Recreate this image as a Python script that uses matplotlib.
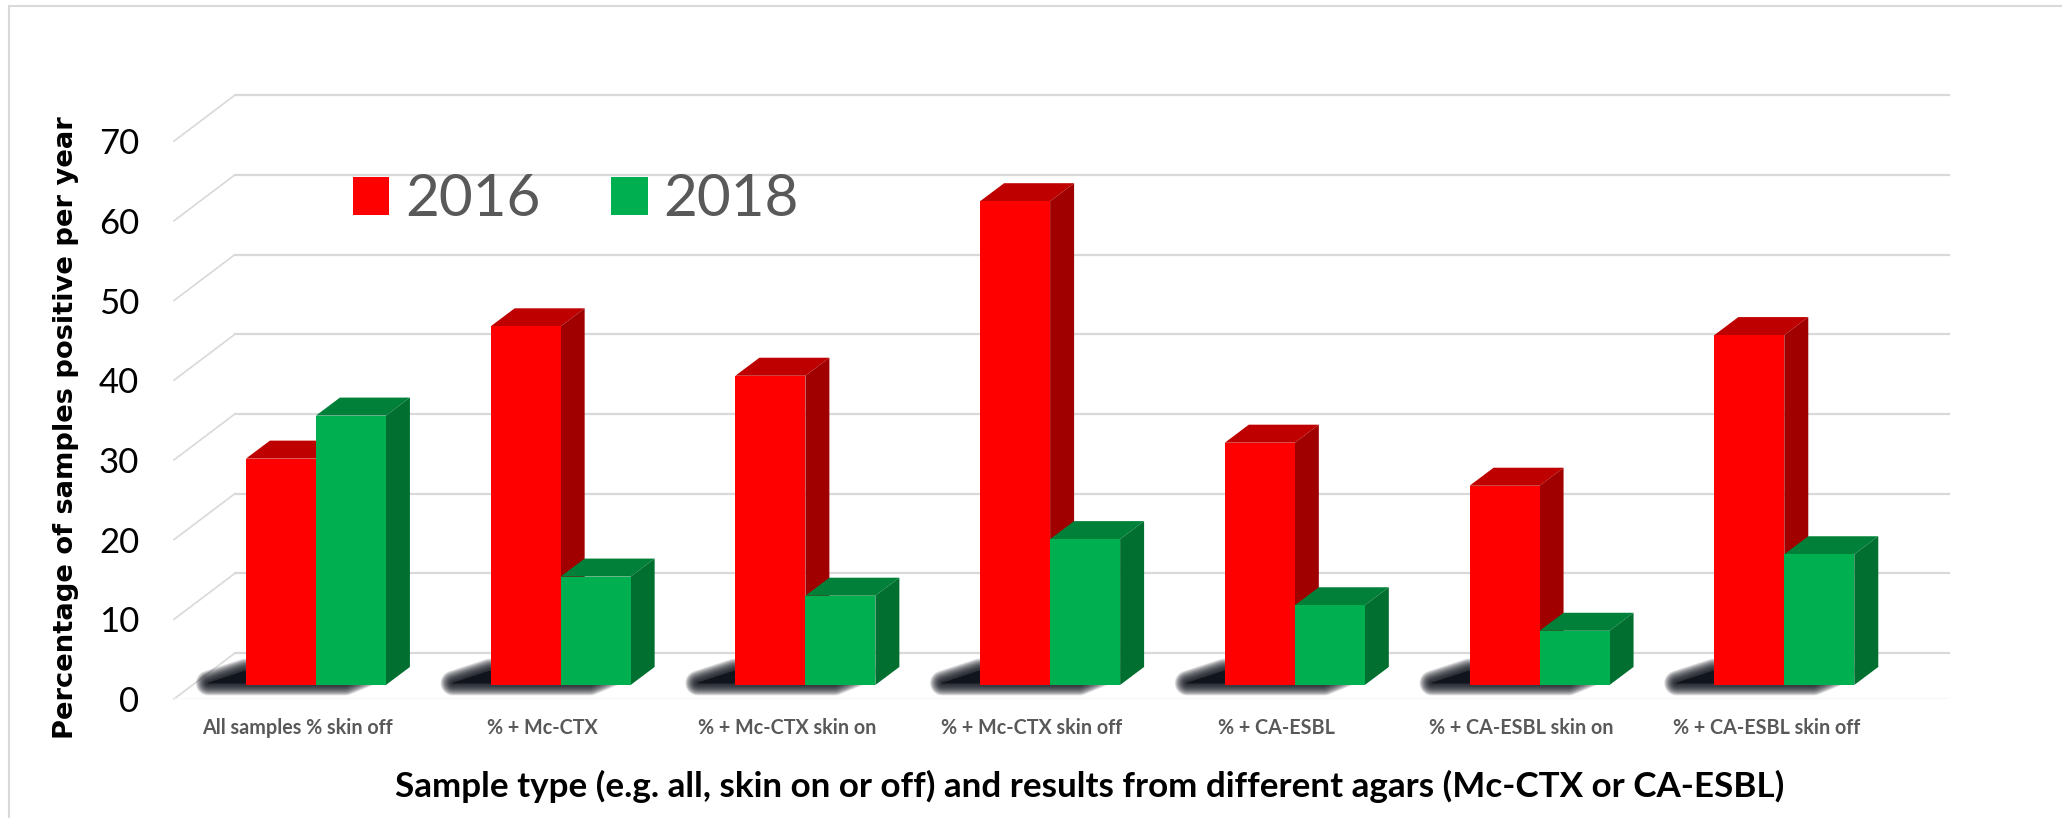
import numpy as np
import matplotlib
matplotlib.use("Agg")
import matplotlib.pyplot as plt
from matplotlib.lines import Line2D

categories = ["All samples % skin off", "% + Mc-CTX", "% + Mc-CTX skin on", "% + Mc-CTX skin off",
              "% + CA-ESBL", "% + CA-ESBL skin on", "% + CA-ESBL skin off"]
pct_2016 = [28.4, 45.0, 38.8, 60.7, 30.4, 25.0, 43.9]
pct_2018 = [33.8, 13.6, 11.2, 18.3, 10.0, 6.8, 16.4]
y_ticks = [0, 10, 20, 30, 40, 50, 60, 70]

W, H = 2062, 818
fig = plt.figure(figsize=(W / 100, H / 100), dpi=100, facecolor="white")
# axes = front plane of the fake 3d box, in pixels of the reference
ax = fig.add_axes([174 / W, 1 - 699 / H, 1775 / W, 603 / H])
ax.set_xlim(-0.58, 6.673)
ax.set_ylim(0, 75.66)
for s in ax.spines.values():
    s.set_visible(False)

x = np.arange(len(categories))
bar_w = 0.286
lift = 1.76        # bars stand this far above the front edge of the floor
depth_x = 0.098    # bar depth
depth_y = 2.26
wall_x = 0.249     # box depth
wall_y = 5.77
grid_col = "#d9d9d9"


def box_faces(xs, vals, top_col, side_col, z):
    for xi, v in zip(xs, vals):
        l, r = xi, xi + bar_w
        t = v + lift
        ax.fill([l, r, r + depth_x, l + depth_x], [t, t, t + depth_y, t + depth_y],
                color=top_col, lw=0, zorder=z, clip_on=False)
        ax.fill([r, r + depth_x, r + depth_x, r], [lift, lift + depth_y, t + depth_y, t],
                color=side_col, lw=0, zorder=z, clip_on=False)


# gridlines: back wall plus the short diagonal on the side wall
for t in y_ticks:
    ax.plot([-0.58 + wall_x, 6.673], [t + wall_y, t + wall_y], color=grid_col, lw=1.6, zorder=1, clip_on=False)
    ax.plot([-0.58, -0.58 + wall_x], [t, t + wall_y], color=grid_col, lw=1.2, zorder=1, clip_on=False)
ax.plot([-0.58, 6.673], [0, 0], color="#f6f6f6", lw=1.2, zorder=1)

# blurred floor shadow, many faint stacked polygons
for xi in x:
    sx = [xi - 0.44, xi + 0.12, xi + 0.24, xi - 0.29]
    sy = [2.0, 2.0, 3.5, 3.5]
    for lw in np.arange(18, -0.1, -0.8):
        ax.fill(sx, sy, fc="#10141c", ec="#10141c", lw=lw, alpha=0.09, zorder=2, joinstyle="round", clip_on=False)

box_faces(x - bar_w, pct_2016, "#bf0000", "#a00000", 3)
ax.bar(x - bar_w, pct_2016, bar_w, bottom=lift, align="edge", color="#ff0000", zorder=4, label="2016")
box_faces(x, pct_2018, "#008038", "#006f30", 5)
ax.bar(x, pct_2018, bar_w, bottom=lift, align="edge", color="#00b050", zorder=6, label="2018")

ax.set_yticks(y_ticks)
ax.set_yticklabels([str(t) for t in y_ticks], fontfamily="Lato", fontsize=25, color="black")
ax.set_xticks(x - 0.074)
ax.set_xticklabels(categories, fontfamily="Lato", fontweight="bold", fontsize=14.2, color="#595959")
ax.tick_params(axis="y", length=0, pad=25)
ax.tick_params(axis="x", length=0, pad=14)

ax.set_xlabel("Sample type (e.g. all, skin on or off) and results from different agars (Mc-CTX or CA-ESBL)",
              fontfamily="Lato", fontweight="bold", fontsize=25.2, color="black", va="center")
ax.xaxis.set_label_coords((1089.5 - 174) / 1775, (699 - 786) / 603)
ax.set_ylabel("Percentage of samples positive per year", fontfamily="DejaVu Sans", fontweight="bold",
              fontsize=19.7, color="black", va="center")
ax.yaxis.set_label_coords((66 - 174) / 1775, (699 - 428) / 603)

leg = ax.legend(loc="center left", bbox_to_anchor=(353 / W, 1 - 200 / H), bbox_transform=fig.transFigure,
                ncol=2, frameon=False, prop={"family": "Lato", "size": 42}, labelcolor="#595959",
                handlelength=0.62, handleheight=0.62, handletextpad=0.27, columnspacing=1.22,
                borderpad=0, borderaxespad=0)
leg.set_zorder(10)

# thin frame left over from the slide
fig.add_artist(Line2D([9 / W, 9 / W], [0, 1 - 6 / H], color="#d9d9d9", lw=1.5))
fig.add_artist(Line2D([9 / W, 1], [1 - 6 / H, 1 - 6 / H], color="#d9d9d9", lw=1.5))

fig.savefig("out.png", dpi=100, facecolor="white")
